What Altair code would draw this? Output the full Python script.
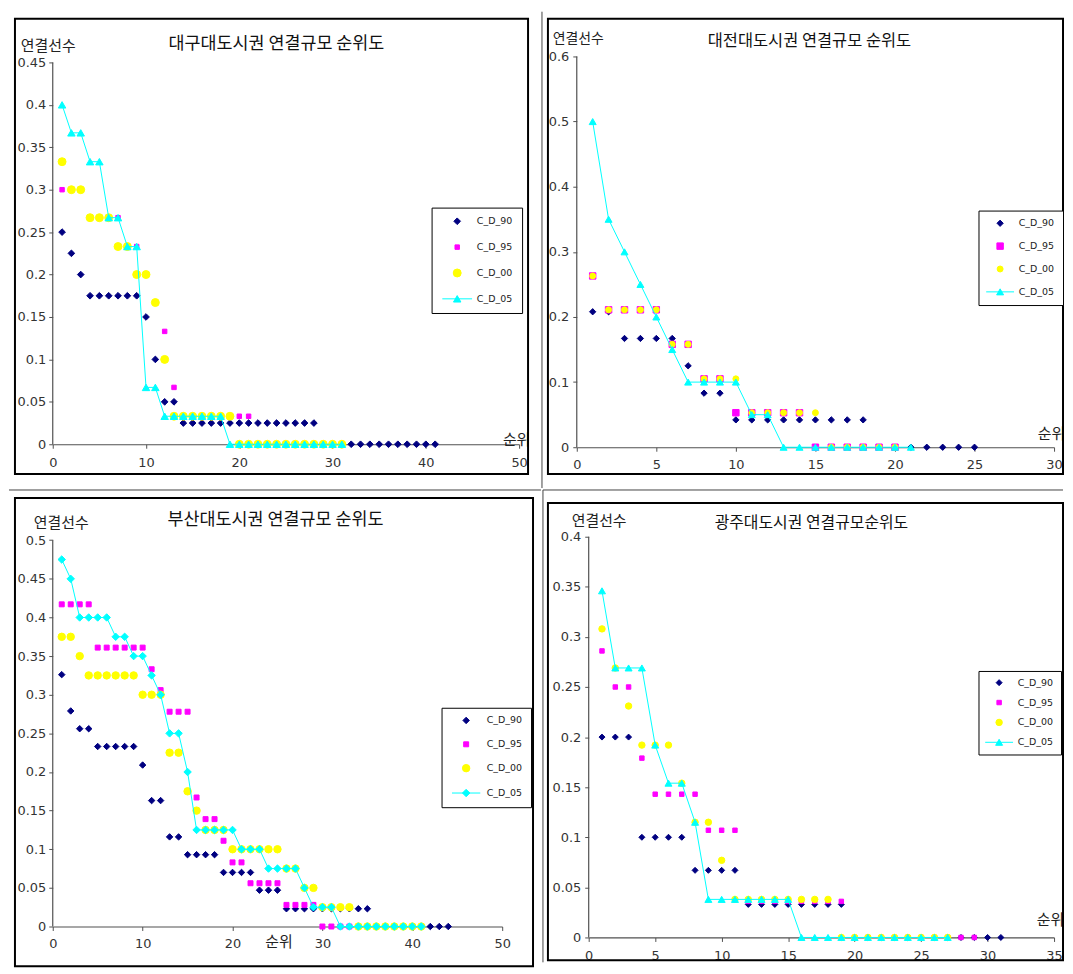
import altair as alt
import pandas as pd

SERIES = ["C_D_90", "C_D_95", "C_D_00", "C_D_05"]
COLORS = ["#000080", "#FF00FF", "#FFFF00", "#00FFFF"]
Y_TITLE = "연결선수"
X_TITLE = "순위"

# ---------------- 대구 ----------------
dg_title = "대구대도시권 연결규모 순위도"
dg_90 = [0.25, 0.225, 0.2, 0.175, 0.175, 0.175, 0.175, 0.175, 0.175, 0.15, 0.1, 0.05, 0.05,
         0.025, 0.025, 0.025, 0.025, 0.025, 0.025, 0.025, 0.025, 0.025, 0.025, 0.025, 0.025,
         0.025, 0.025, 0.025,
         0, 0, 0, 0, 0, 0, 0, 0, 0, 0, 0, 0, 0]
dg_95 = [0.3, 0.3, 0.3, 0.267, 0.267, 0.267, 0.267, 0.233, 0.233, 0.2, 0.167, 0.133, 0.067,
         0.033, 0.033, 0.033, 0.033, 0.033, 0.033, 0.033, 0.033,
         0, 0, 0, 0, 0, 0, 0, 0, 0, 0]
dg_00 = [0.333, 0.3, 0.3, 0.267, 0.267, 0.267, 0.233, 0.233, 0.2, 0.2, 0.167, 0.1,
         0.033, 0.033, 0.033, 0.033, 0.033, 0.033, 0.033,
         0, 0, 0, 0, 0, 0, 0, 0, 0, 0, 0, 0]
dg_05 = [0.4, 0.367, 0.367, 0.333, 0.333, 0.267, 0.267, 0.233, 0.233, 0.067, 0.067,
         0.033, 0.033, 0.033, 0.033, 0.033, 0.033, 0.033,
         0, 0, 0, 0, 0, 0, 0, 0, 0, 0, 0, 0, 0]
dg_xticks = [0, 10, 20, 30, 40, 50]
dg_yticks = [0, 0.05, 0.1, 0.15, 0.2, 0.25, 0.3, 0.35, 0.4, 0.45]

# ---------------- 대전 ----------------
dj_title = "대전대도시권 연결규모 순위도"
dj_90 = [0.208, 0.208, 0.167, 0.167, 0.167, 0.167, 0.125, 0.083, 0.083,
         0.042, 0.042, 0.042, 0.042, 0.042, 0.042, 0.042, 0.042, 0.042,
         0, 0, 0, 0, 0, 0, 0]
dj_95 = [0.263, 0.211, 0.211, 0.211, 0.211, 0.158, 0.158, 0.105, 0.105,
         0.053, 0.053, 0.053, 0.053, 0.053,
         0, 0, 0, 0, 0, 0]
dj_00 = [0.263, 0.211, 0.211, 0.211, 0.211, 0.158, 0.158, 0.105, 0.105, 0.105,
         0.053, 0.053, 0.053, 0.053, 0.053,
         0, 0, 0, 0, 0]
dj_05 = [0.5, 0.35, 0.3, 0.25, 0.2, 0.15, 0.1, 0.1, 0.1, 0.1, 0.05, 0.05,
         0, 0, 0, 0, 0, 0, 0, 0, 0]
dj_xticks = [0, 5, 10, 15, 20, 25, 30]
dj_yticks = [0, 0.1, 0.2, 0.3, 0.4, 0.5, 0.6]

# ---------------- 부산 ----------------
bs_title = "부산대도시권 연결규모 순위도"
bs_90 = [0.326, 0.279, 0.256, 0.256, 0.233, 0.233, 0.233, 0.233, 0.233, 0.209, 0.163, 0.163,
         0.116, 0.116, 0.093, 0.093, 0.093, 0.093, 0.07, 0.07, 0.07, 0.07, 0.047, 0.047, 0.047,
         0.023, 0.023, 0.023, 0.023, 0.023, 0.023, 0.023, 0.023, 0.023, 0.023,
         0, 0, 0, 0, 0, 0, 0, 0, 0]
bs_95 = [0.417, 0.417, 0.417, 0.417, 0.361, 0.361, 0.361, 0.361, 0.361, 0.361, 0.333, 0.306,
         0.278, 0.278, 0.278, 0.167, 0.139, 0.139, 0.111, 0.083, 0.083,
         0.056, 0.056, 0.056, 0.056, 0.028, 0.028, 0.028, 0.028,
         0, 0, 0, 0, 0, 0, 0, 0, 0, 0, 0, 0]
bs_00 = [0.375, 0.375, 0.35, 0.325, 0.325, 0.325, 0.325, 0.325, 0.325, 0.3, 0.3, 0.3,
         0.225, 0.225, 0.175, 0.15, 0.125, 0.125, 0.125, 0.1, 0.1, 0.1, 0.1, 0.1, 0.1,
         0.075, 0.075, 0.05, 0.05, 0.025, 0.025, 0.025, 0.025,
         0, 0, 0, 0, 0, 0, 0, 0]
bs_05 = [0.475, 0.45, 0.4, 0.4, 0.4, 0.4, 0.375, 0.375, 0.35, 0.35, 0.325, 0.3, 0.25, 0.25,
         0.2, 0.125, 0.125, 0.125, 0.125, 0.125, 0.1, 0.1, 0.1, 0.075, 0.075, 0.075, 0.075,
         0.05, 0.025, 0.025, 0.025,
         0, 0, 0, 0, 0, 0, 0, 0, 0, 0]
bs_xticks = [0, 10, 20, 30, 40, 50]
bs_yticks = [0, 0.05, 0.1, 0.15, 0.2, 0.25, 0.3, 0.35, 0.4, 0.45, 0.5]

# ---------------- 광주 ----------------
gj_title = "광주대도시권 연결규모순위도"
gj_90 = [0.2, 0.2, 0.2, 0.1, 0.1, 0.1, 0.1, 0.067, 0.067, 0.067, 0.067,
         0.033, 0.033, 0.033, 0.033, 0.033, 0.033, 0.033, 0.033,
         0, 0, 0, 0, 0, 0, 0, 0, 0, 0, 0, 0]
gj_95 = [0.286, 0.25, 0.25, 0.179, 0.143, 0.143, 0.143, 0.143, 0.107, 0.107, 0.107,
         0.036, 0.036, 0.036, 0.036, 0.036, 0.036, 0.036, 0.036,
         0, 0, 0, 0, 0, 0, 0, 0, 0, 0]
gj_00 = [0.308, 0.269, 0.231, 0.192, 0.192, 0.192, 0.154, 0.115, 0.115, 0.077,
         0.038, 0.038, 0.038, 0.038, 0.038, 0.038, 0.038, 0.038,
         0, 0, 0, 0, 0, 0, 0, 0, 0]
gj_05 = [0.346, 0.269, 0.269, 0.269, 0.192, 0.154, 0.154, 0.115,
         0.038, 0.038, 0.038, 0.038, 0.038, 0.038, 0.038,
         0, 0, 0, 0, 0, 0, 0, 0, 0, 0, 0, 0]
gj_xticks = [0, 5, 10, 15, 20, 25, 30, 35]
gj_yticks = [0, 0.05, 0.1, 0.15, 0.2, 0.25, 0.3, 0.35, 0.4]

TRI_LINE = "M0,-0.866L-1,0.866L1,0.866Z M-4,0L4,0"
DIA_LINE = "M-1,0L0,-1L1,0L0,1Z M-3.8,0L3.8,0"

AXIS_LINE = "#505050"
LABEL_FONT = "DejaVu Sans"
KFONT = "Noto Sans CJK KR"


def long_df(lists):
    rows = []
    for name, vals in zip(SERIES, lists):
        for i, v in enumerate(vals):
            rows.append({"series": name, "rank": i + 1, "value": v})
    return pd.DataFrame(rows)


def panel(c):
    df = long_df(c["data"])
    W, H = c["W"], c["H"]
    one = pd.DataFrame({"t": [c["title"]]})
    ytop = c["yticks"][-1]
    ydom_top = ytop * H / c["Hs"]

    xaxis = alt.Axis(values=c["xticks"], format="d", grid=False, title=X_TITLE,
                     titleAngle=0, titleX=c["xt"][0], titleY=c["xt"][1],
                     titleAlign="center", titleBaseline="middle", titleFontSize=15,
                     labelPadding=c["xlp"], labelFlush=False, labelOverlap=False)
    yaxis = alt.Axis(values=c["yticks"], format="~g", grid=False, title=Y_TITLE, domain=False,
                     titleAngle=0, titleX=c["yt"][0], titleY=c["yt"][1],
                     titleAlign="center", titleBaseline="middle", titleFontSize=c["ytfs"],
                     labelPadding=c["ylp"], labelFlush=False, labelOverlap=False)
    X = alt.X("rank:Q", scale=alt.Scale(domain=[0, c["xmax"]], nice=False, zero=False), axis=xaxis)
    Y = alt.Y("value:Q", scale=alt.Scale(domain=[0, ydom_top], nice=False, zero=False), axis=yaxis)

    lg = c["lg"]
    legend = alt.Legend(title=None, orient="none", legendX=lg["x"], legendY=lg["y"],
                        strokeColor="black", fillColor="white", padding=lg["pad"],
                        rowPadding=lg["row"], symbolOffset=lg["so"], labelOffset=lg["lo"],
                        labelFont=LABEL_FONT, labelFontSize=9.5, labelColor="#222",
                        symbolStrokeWidth=1)
    shapes = ["diamond", "square", "circle", c["shape05_leg"]]
    sc = alt.Scale(domain=SERIES, range=COLORS)
    base = alt.Chart(df)

    pts = base.transform_filter(alt.datum.series != "C_D_05").mark_point(
        filled=True, strokeWidth=1, opacity=1).encode(
        x=X, y=Y,
        fill=alt.Fill("series:N", scale=sc, legend=legend),
        stroke=alt.Stroke("series:N", scale=sc, legend=legend),
        shape=alt.Shape("series:N", scale=alt.Scale(domain=SERIES, range=shapes), legend=legend),
        size=alt.Size("series:N", scale=alt.Scale(type="ordinal", domain=SERIES, range=c["sizes"]),
                      legend=legend),
    )
    line = base.transform_filter(alt.datum.series == "C_D_05").mark_line(
        color="#00FFFF", strokeWidth=1).encode(x=X, y=Y)
    pts05 = base.transform_filter(alt.datum.series == "C_D_05").mark_point(
        filled=True, shape=c["shape05"], size=c["sizes"][3], fill="#00FFFF",
        stroke="#00FFFF", strokeWidth=1, opacity=1).encode(x=X, y=Y)

    yline_df = pd.DataFrame({"value": [c["yticks"][0]], "value2": [ytop]})
    yline = alt.Chart(yline_df).mark_rule(color=AXIS_LINE, strokeWidth=1.2).encode(
        x=alt.value(0), y=Y, y2=alt.Y2("value2:Q"))

    cx0, cx1, cy0, cy1 = c["cell"]
    cell = alt.Chart(one).mark_rect(fill="white", fillOpacity=0, strokeOpacity=0).encode(
        x=alt.value(cx0), x2=alt.value(cx1), y=alt.value(cy0), y2=alt.value(cy1))
    fx0, fx1, fy0, fy1 = c["frame"]
    frame = alt.Chart(one).mark_rect(fill="white", fillOpacity=0, stroke="black",
                                     strokeWidth=2).encode(
        x=alt.value(fx0), x2=alt.value(fx1), y=alt.value(fy0), y2=alt.value(fy1))
    title = alt.Chart(one).mark_text(font=KFONT, fontSize=c["tfs"], color="#111",
                                     align="center", baseline="middle").encode(
        x=alt.value(c["tpos"][0]), y=alt.value(c["tpos"][1]), text="t:N")

    layers = [cell, frame]
    for s in c["seps"]:
        layers.append(alt.Chart(one).mark_rule(color="#444", strokeWidth=1).encode(
            x=alt.value(s[0]), x2=alt.value(s[1]), y=alt.value(s[2]), y2=alt.value(s[3])))
    layers += [yline, pts, line, pts05, title]
    return alt.layer(*layers).properties(width=W, height=H)


p1 = panel(dict(data=[dg_90, dg_95, dg_00, dg_05], title=dg_title, W=469, H=390, Hs=384,
                xmax=50, xticks=dg_xticks, yticks=dg_yticks, xt=(466, -5), yt=(-5, -11),
                xlp=8, ylp=3, ytfs=15,
                lg=dict(x=381, y=152, pad=9, row=14, so=12, lo=15),
                sizes=[45, 20, 64, 56], shape05="triangle-up", shape05_leg=TRI_LINE,
                cell=(-44, 491, -45, 434), frame=(-38, 478, -38, 420), tfs=17.5, tpos=(225, -13),
                seps=[]))
p2 = panel(dict(data=[dj_90, dj_95, dj_00, dj_05], title=dj_title, W=480, H=393, Hs=393,
                xmax=30, xticks=dj_xticks, yticks=dj_yticks, xt=(477, -14), yt=(1, -18),
                xlp=7, ylp=4, ytfs=14,
                lg=dict(x=404, y=155, pad=8, row=12, so=9, lo=14),
                sizes=[40, 42, 36, 49], shape05="triangle-up", shape05_leg=TRI_LINE,
                cell=(-35, 487, -45, 434), frame=(-29, 489, -38, 420), tfs=16.5, tpos=(234, -16),
                seps=[(-35, -35, -45, 434)]))
p3 = panel(dict(data=[bs_90, bs_95, bs_00, bs_05], title=bs_title, W=452, H=392, Hs=388.5,
                xmax=50, xticks=bs_xticks, yticks=bs_yticks, xt=(227, 15), yt=(8, -14),
                xlp=7, ylp=3, ytfs=15,
                lg=dict(x=391, y=172, pad=8, row=13, so=12, lo=16),
                sizes=[42, 25, 56, 56], shape05="diamond", shape05_leg=DIA_LINE,
                cell=(-44, 491, -47, 430), frame=(-38, 483, -39, 432), tfs=17.5, tpos=(224, -17),
                seps=[(-44, 491, -47, -47)]))
p4 = panel(dict(data=[gj_90, gj_95, gj_00, gj_05], title=gj_title, W=468, H=403, Hs=403,
                xmax=35, xticks=gj_xticks, yticks=gj_yticks, xt=(464, -18), yt=(10, -16),
                xlp=8, ylp=4, ytfs=15,
                lg=dict(x=392, y=135, pad=7, row=9, so=9, lo=14),
                sizes=[36, 20, 42, 49], shape05="triangle-up", shape05_leg=TRI_LINE,
                cell=(-46, 477, -47, 428), frame=(-41, 477, -34, 426), tfs=16, tpos=(224, -14),
                seps=[(-46, -46, -47, 428), (-46, 477, -47, -47)]))

RES = dict(fill="independent", stroke="independent", shape="independent",
           size="independent", x="independent", y="independent")
LRES = dict(fill="independent", stroke="independent", shape="independent", size="independent")

row1 = alt.hconcat(p1, p2, spacing=0).resolve_scale(**RES).resolve_legend(**LRES)
row2 = alt.hconcat(p3, p4, spacing=0).resolve_scale(**RES).resolve_legend(**LRES)

chart = alt.vconcat(row1, row2, spacing=0).resolve_scale(**RES).resolve_legend(**LRES).properties(
    padding=0, background="white"
).configure_view(stroke=None).configure_axis(
    domainColor=AXIS_LINE, domainWidth=1.2, tickColor=AXIS_LINE, tickSize=4,
    labelFont=LABEL_FONT, labelFontSize=13, labelColor="#333",
    titleFont=KFONT, titleFontWeight="normal", titleColor="#222"
)

chart.save("out.html", embed_options={"renderer": "svg", "actions": False})
